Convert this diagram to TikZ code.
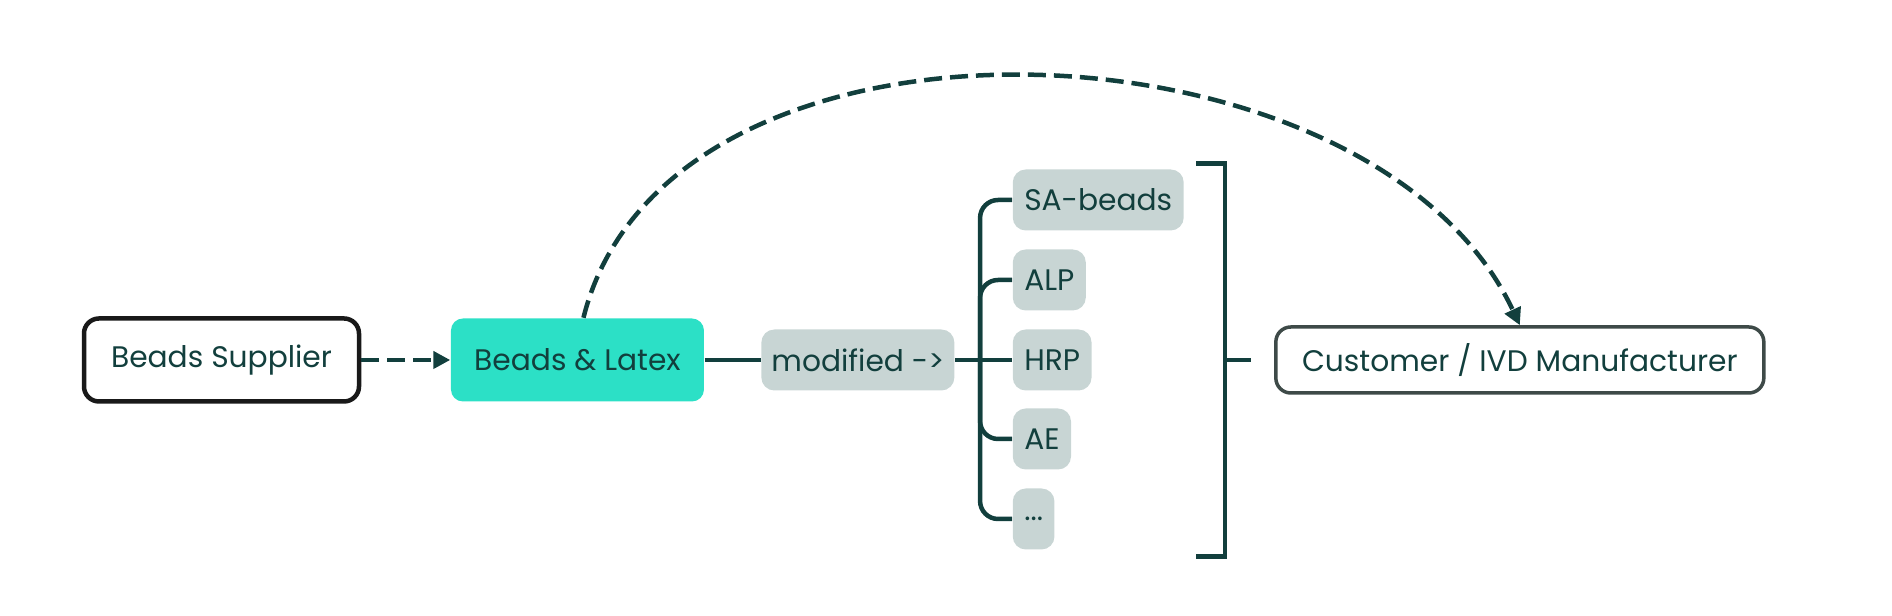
\documentclass[tikz,border=0pt]{standalone}
\usepackage{fontspec}
\setmainfont{Poppins}
\usepackage{tikz}
\usetikzlibrary{arrows.meta,positioning}

\definecolor{ink}{HTML}{123F3D}
\definecolor{tealfill}{HTML}{2CE0C6}
\definecolor{greyfill}{HTML}{C8D5D4}
\definecolor{rimgrey}{HTML}{3E4A48}

\begin{document}
\begin{tikzpicture}[
    font=\fontsize{8.45}{10}\selectfont,
    text=ink,
    party/.style={draw=black!90, line width=0.045cm, rounded corners=0.15cm, minimum height=0.83cm, fill=white},
    core/.style={fill=tealfill, rounded corners=0.12cm, minimum width=2.53cm, minimum height=0.83cm},
    tag/.style={fill=greyfill, rounded corners=0.13cm, minimum height=0.61cm, inner xsep=0.115cm},
    link/.style={draw=ink, line width=0.045cm},
    flow/.style={link, dash pattern=on 0.18cm off 0.08cm, -{Triangle[length=0.17cm,width=0.17cm]}}
]
\useasboundingbox (0,0) rectangle (18.92,6.16);

% Main row
\node[party, minimum width=2.75cm] (supplier) at (2.215,2.56) {Beads Supplier};
\node[core, right=0.89cm of supplier] (latex) {Beads \& Latex};
\node[tag, inner xsep=0.08cm, minimum width=1.93cm, right=0.56cm of latex] (modified) {modified ->};
\coordinate[right=0.25cm of modified] (trunk);

% Modifications
\node[tag, anchor=west] (hrp) at ([xshift=0.32cm]trunk) {HRP};
\node[tag, anchor=west] (alp) at ([yshift=0.8cm]hrp.west) {ALP};
\node[tag, anchor=west] (sabeads) at ([yshift=1.6cm]hrp.west) {SA-beads};
\node[tag, anchor=west] (ae) at ([yshift=-0.79cm]hrp.west) {AE};
\node[tag, anchor=west] (more) at ([yshift=-1.59cm]hrp.west) {...};

% Bracket and customer
\coordinate[right=2.45cm of trunk] (bracket);
\coordinate[above=1.965cm of bracket] (brtop);
\coordinate[below=1.965cm of bracket] (brbot);
\coordinate[right=0.26cm of bracket] (stub);
\node[party, draw=rimgrey, line width=0.035cm, minimum width=4.88cm, minimum height=0.66cm, right=0.49cm of bracket] (customer) {Customer / IVD Manufacturer};

% Connectors
\draw[link] (latex) -- (modified);
\draw[link] (modified) -- (hrp);
\draw[link, rounded corners=0.18cm] (sabeads.west) -| (trunk) |- (more.west);
\draw[link, rounded corners=0.18cm] (alp.west) -| (trunk);
\draw[link, rounded corners=0.18cm] (ae.west) -| (trunk);
\draw[link] ([xshift=-0.29cm]brtop) -- (brtop) -- (brbot) -- ([xshift=-0.29cm]brbot);
\draw[link] (bracket) -- (stub);

% Flows
\draw[flow] (supplier) -- (latex);
\draw[flow] ([xshift=0.06cm]latex.north) to[out=76, in=115, looseness=0.95] (customer.north);
\end{tikzpicture}
\end{document}
